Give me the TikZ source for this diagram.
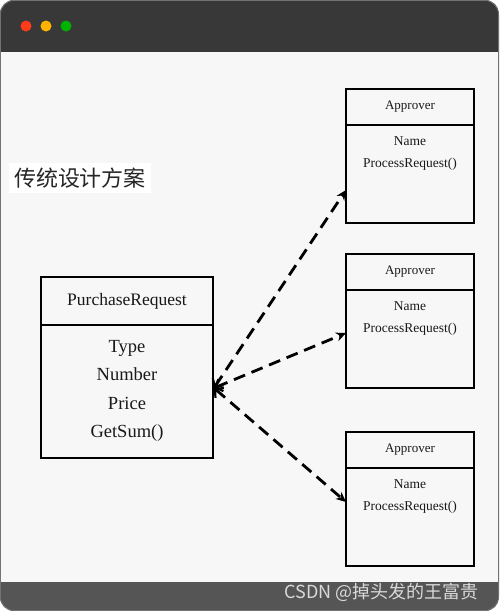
\documentclass[tikz,border=0pt]{standalone}
\usepackage{fontspec}
\setmainfont{Liberation Serif}
\newfontfamily\cjk{Noto Sans CJK SC}
\usetikzlibrary{positioning,arrows.meta}

\definecolor{barcol}{HTML}{383838}
\definecolor{footcol}{HTML}{555555}
\definecolor{bodycol}{HTML}{F7F7F7}

\begin{document}
\begin{tikzpicture}[x=1pt,y=-1pt,
box/.style={draw,line width=2pt,inner sep=0pt,outer sep=0pt,fill=bodycol},
aphead/.style={box,minimum width=128pt,minimum height=36pt,text=black!90,font=\fontsize{13}{15}\selectfont},
apbody/.style={box,minimum width=128pt,minimum height=98pt},
aptext/.style={align=center,text=black!90,font=\fontsize{13.5}{22}\selectfont},
link/.style={line width=2.8pt,dash pattern=on 12pt off 7pt,
  {Straight Barb[length=6pt,width=13pt,line width=2.2pt]}-{Stealth[length=10pt,width=9pt]}}]

\useasboundingbox (0,0) rectangle (499,611);

% window
\fill[white] (0,0) rectangle (499,611);
\begin{scope}
\clip[rounded corners=14pt] (0,0) rectangle (499,611);
\fill[bodycol] (0,0) rectangle (499,611);
\fill[barcol] (0,0) rectangle (499,52);
\fill[footcol] (0,582) rectangle (499,611);
\end{scope}
\draw[black!55,line width=0.8pt,rounded corners=14pt] (0.4,0.4) rectangle (498.6,610.6);

\fill[red!70!orange!90] (26,26) circle (5.5pt);
\fill[orange!60!yellow] (46,26) circle (5.5pt);
\fill[green!70!black] (66,26) circle (5.5pt);

\node[fill=white,inner sep=5pt,text=black!85,font=\cjk\fontsize{22}{24}\selectfont] (title) at (80,178) {传统设计方案};

% PurchaseRequest
\node[box,minimum width=172pt,minimum height=48pt,text=black!90,font=\fontsize{17.5}{20}\selectfont] (prh) at (127,301) {PurchaseRequest};
\node[box,minimum width=172pt,minimum height=133pt,below=0pt of prh] (prb) {};
\node[align=center,text=black!90,font=\fontsize{18.5}{28.4}\selectfont] (prt) at (127,391) {Type\\Number\\Price\\GetSum()};

% Approvers
\node[aphead] (ap1h) at (410,107) {Approver};
\node[apbody,below=0pt of ap1h] (ap1b) {};
\node[aptext] (ap1t) at (410,154) {Name\\ProcessRequest()};

\node[aphead] (ap2h) at (410,271.5) {Approver};
\node[apbody,below=0pt of ap2h] (ap2b) {};
\node[aptext] (ap2t) at (410,318.5) {Name\\ProcessRequest()};

\node[aphead] (ap3h) at (410,449.5) {Approver};
\node[apbody,below=0pt of ap3h] (ap3b) {};
\node[aptext] (ap3t) at (410,497) {Name\\ProcessRequest()};

\coordinate (hub) at (214,388);

\draw[link] (hub) -- ([yshift=-16pt]ap1b.west);
\draw[link] (hub) -- ([yshift=5.5pt]ap2b.west);
\draw[link] (hub) -- ([yshift=14.5pt]ap3b.west);

\node[anchor=east,text=white!85!black,font=\cjk\fontsize{18}{20}\selectfont] (mark) at (482,592) {CSDN @掉头发的王富贵};

\end{tikzpicture}
\end{document}
